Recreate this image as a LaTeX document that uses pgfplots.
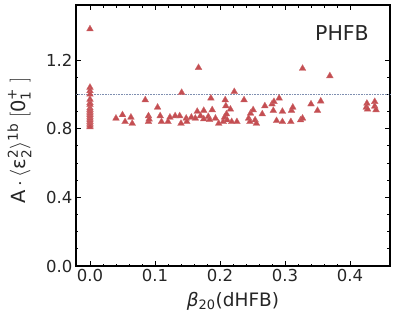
\documentclass[border=0pt]{standalone}
\usepackage{amsmath}
\usepackage{fontspec}
\setmainfont{DejaVu Sans}
\usepackage{pgfplots}
\pgfplotsset{compat=1.18}
\definecolor{mred}{HTML}{C44E52}
\definecolor{dline}{HTML}{7F8FB0}
\definecolor{txt}{HTML}{262626}

\begin{document}
\begin{tikzpicture}
\begin{axis}[
  scale only axis, width=314pt, height=261pt,
  at={(0,0)}, anchor=south west,
  xmin=-0.0215, xmax=0.4615, ymin=0, ymax=1.52,
  xtick={0,0.1,0.2,0.3,0.4}, ytick={0,0.4,0.8,1.2},
  minor x tick num=4, minor y tick num=3,
  tick align=inside, tick pos=both,
  xticklabel pos=bottom, yticklabel pos=left,
  major tick length=5pt, minor tick length=2.5pt,
  every tick/.style={black, line width=0.8pt},
  axis line style={black, line width=1.2pt},
  /pgf/number format/assume math mode=true,
  /pgf/number format/.cd, fixed, fixed zerofill, precision=1, /pgfplots/.cd,
  ticklabel style={font=\fontsize{16.5}{19}\selectfont, text=txt},
  xlabel={\textit{β}$_{\text{20}}$(dHFB)},
  ylabel={A$\,\cdot\,\langle\text{ε}_{\text{2}}^{\text{2}}\rangle^{\text{1b}}\;[\text{0}_{\text{1}}^{\text{+}}\;]$},
  label style={text=txt},
  xlabel style={font=\fontsize{18.5}{22}\selectfont, yshift=-3pt},
  ylabel style={font=\fontsize{19.5}{23}\selectfont, yshift=8pt, xshift=-5pt},
  clip=false,
]
\addplot[dline, densely dotted, line width=0.6pt] coordinates {(-0.0215,1) (0.4615,1)};
\addplot[only marks, mark=triangle*, mark size=3.9pt,
  mark options={fill=mred, draw=mred!85!white, line width=0.3pt}]
  coordinates {
  (0,1.38) (0,1.04) (0,1.02) (0,1.00) (0,0.97) (0,0.95) (0,0.94) (0,0.92)
  (0,0.91) (0,0.90) (0,0.89) (0,0.88) (0,0.87) (0,0.86) (0,0.85) (0,0.84)
  (0,0.83) (0,0.82) (0,0.81)
  (0.040,0.86) (0.050,0.88) (0.054,0.84) (0.063,0.866) (0.065,0.83)
  (0.085,0.967) (0.090,0.874) (0.090,0.84) (0.091,0.855)
  (0.104,0.924) (0.108,0.874) (0.110,0.84) (0.120,0.84) (0.123,0.866)
  (0.131,0.874) (0.138,0.874) (0.141,1.01) (0.140,0.83) (0.148,0.86) (0.149,0.84)
  (0.156,0.866) (0.162,0.86) (0.165,0.90) (0.167,1.155) (0.170,0.874)
  (0.175,0.856) (0.175,0.905) (0.182,0.87) (0.184,0.852) (0.186,0.977)
  (0.188,0.909) (0.198,0.83) (0.193,0.86)
  (0.205,0.84) (0.207,0.866) (0.208,0.967) (0.209,0.932) (0.210,0.885)
  (0.211,0.85) (0.216,0.913) (0.218,0.84) (0.222,1.015) (0.226,0.84)
  (0.237,0.967) (0.244,0.86) (0.246,0.84) (0.247,0.889) (0.251,0.909)
  (0.254,0.85) (0.256,0.83) (0.265,0.885) (0.269,0.932) (0.280,0.943)
  (0.282,0.905) (0.283,0.957) (0.287,0.846) (0.291,0.977) (0.296,0.84)
  (0.296,0.90) (0.309,0.84) (0.310,0.905) (0.312,0.924) (0.324,0.85)
  (0.327,0.86) (0.327,1.15) (0.340,0.943) (0.350,0.905) (0.355,0.96)
  (0.369,1.107) (0.426,0.947) (0.425,0.924) (0.427,0.913) (0.438,0.957)
  (0.438,0.93) (0.440,0.909)
  };
\node[font=\fontsize{20.5}{24}\selectfont, text=txt] at (rel axis cs:0.847,0.893) {PHFB};
\end{axis}
\pgfresetboundingbox
\useasboundingbox (-76pt,-59pt) rectangle (321pt,266pt);
\end{tikzpicture}
\end{document}
